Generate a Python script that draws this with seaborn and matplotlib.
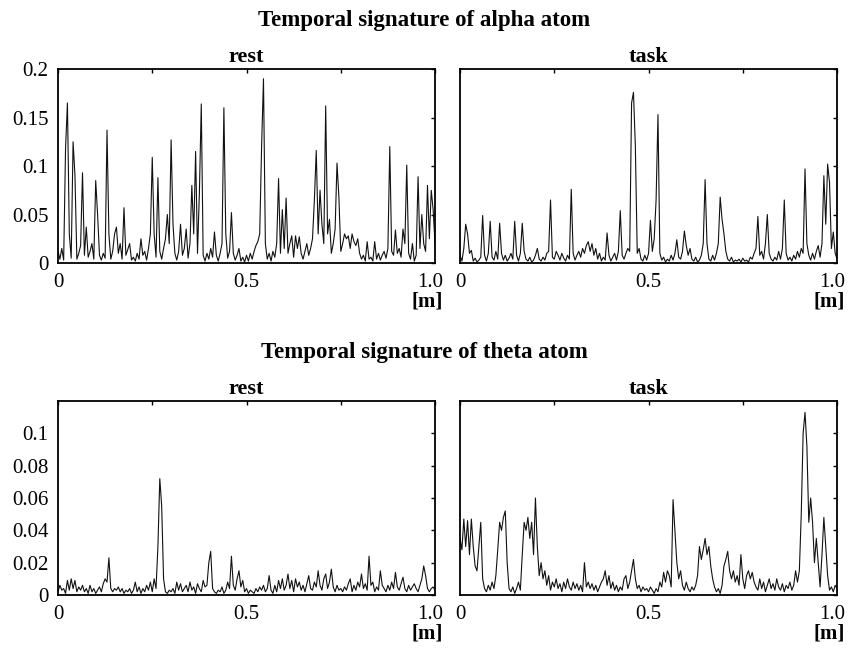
"""Temporal signatures of alpha and theta atoms (rest vs task)."""

import numpy as np
import pandas as pd
import matplotlib
matplotlib.use("Agg")
import matplotlib.pyplot as plt
import matplotlib.transforms as mtransforms
import seaborn as sns

# ---- data (201 samples over [0, 1] m) ----
ALPHA_REST = [
    0.012, 0.004, 0.015, 0.003, 0.118, 0.165, 0.030, 0.005, 0.125, 0.090, 0.004, 0.010, 0.018, 0.093, 0.008, 0.037, 0.006, 0.012, 0.020, 0.004,
    0.085, 0.050, 0.008, 0.003, 0.010, 0.005, 0.137, 0.030, 0.004, 0.012, 0.030, 0.037, 0.010, 0.020, 0.004, 0.057, 0.008, 0.014, 0.020, 0.003,
    0.006, 0.002, 0.010, 0.004, 0.025, 0.008, 0.012, 0.003, 0.015, 0.030, 0.109, 0.030, 0.006, 0.088, 0.012, 0.004, 0.015, 0.025, 0.050, 0.020,
    0.127, 0.040, 0.010, 0.003, 0.012, 0.040, 0.008, 0.015, 0.035, 0.005, 0.020, 0.080, 0.030, 0.115, 0.010, 0.072, 0.164, 0.008, 0.002, 0.010,
    0.004, 0.015, 0.006, 0.032, 0.008, 0.002, 0.010, 0.020, 0.160, 0.030, 0.005, 0.012, 0.052, 0.010, 0.003, 0.008, 0.015, 0.002, 0.006, 0.001,
    0.008, 0.002, 0.010, 0.004, 0.012, 0.018, 0.022, 0.030, 0.120, 0.190, 0.020, 0.004, 0.010, 0.002, 0.012, 0.006, 0.020, 0.087, 0.010, 0.055,
    0.015, 0.067, 0.010, 0.020, 0.028, 0.006, 0.028, 0.015, 0.027, 0.010, 0.004, 0.012, 0.020, 0.008, 0.015, 0.025, 0.065, 0.116, 0.030, 0.075,
    0.040, 0.020, 0.162, 0.030, 0.045, 0.010, 0.020, 0.035, 0.103, 0.068, 0.012, 0.020, 0.030, 0.025, 0.028, 0.015, 0.030, 0.022, 0.018, 0.025,
    0.010, 0.004, 0.008, 0.002, 0.022, 0.004, 0.006, 0.002, 0.022, 0.004, 0.010, 0.003, 0.008, 0.012, 0.005, 0.015, 0.120, 0.012, 0.008, 0.034,
    0.010, 0.015, 0.006, 0.035, 0.020, 0.101, 0.010, 0.004, 0.020, 0.002, 0.008, 0.089, 0.015, 0.050, 0.020, 0.012, 0.080, 0.025, 0.075, 0.055,
    0.020,
]

ALPHA_TASK = [
    0.008, 0.002, 0.015, 0.040, 0.030, 0.010, 0.013, 0.002, 0.005, 0.001, 0.003, 0.006, 0.049, 0.008, 0.002, 0.010, 0.043, 0.006, 0.003, 0.012,
    0.004, 0.041, 0.010, 0.003, 0.008, 0.002, 0.005, 0.010, 0.004, 0.043, 0.008, 0.002, 0.010, 0.041, 0.012, 0.004, 0.002, 0.006, 0.001, 0.003,
    0.008, 0.015, 0.004, 0.002, 0.006, 0.003, 0.010, 0.012, 0.065, 0.006, 0.004, 0.012, 0.008, 0.003, 0.010, 0.005, 0.002, 0.008, 0.004, 0.076,
    0.010, 0.003, 0.008, 0.012, 0.006, 0.015, 0.010, 0.018, 0.022, 0.012, 0.020, 0.008, 0.015, 0.004, 0.010, 0.002, 0.006, 0.003, 0.031, 0.008,
    0.002, 0.006, 0.010, 0.003, 0.012, 0.054, 0.008, 0.004, 0.010, 0.015, 0.012, 0.165, 0.176, 0.120, 0.010, 0.015, 0.004, 0.002, 0.008, 0.003,
    0.010, 0.044, 0.012, 0.025, 0.065, 0.153, 0.010, 0.003, 0.006, 0.001, 0.004, 0.002, 0.008, 0.003, 0.010, 0.024, 0.006, 0.004, 0.012, 0.033,
    0.018, 0.008, 0.015, 0.004, 0.002, 0.006, 0.001, 0.003, 0.008, 0.020, 0.086, 0.020, 0.004, 0.002, 0.008, 0.003, 0.010, 0.020, 0.068, 0.045,
    0.030, 0.012, 0.004, 0.002, 0.006, 0.001, 0.003, 0.002, 0.004, 0.001, 0.005, 0.002, 0.003, 0.001, 0.006, 0.004, 0.010, 0.015, 0.048, 0.008,
    0.012, 0.004, 0.020, 0.050, 0.010, 0.004, 0.002, 0.006, 0.003, 0.012, 0.004, 0.015, 0.065, 0.010, 0.003, 0.006, 0.002, 0.008, 0.004, 0.012,
    0.006, 0.015, 0.010, 0.097, 0.020, 0.008, 0.003, 0.010, 0.004, 0.012, 0.018, 0.006, 0.020, 0.090, 0.040, 0.102, 0.083, 0.015, 0.032, 0.010,
    0.004,
]

THETA_REST = [
    0.002, 0.006, 0.003, 0.004, 0.001, 0.009, 0.003, 0.010, 0.004, 0.009, 0.002, 0.005, 0.003, 0.006, 0.002, 0.004, 0.001, 0.006, 0.002, 0.004,
    0.001, 0.003, 0.005, 0.002, 0.007, 0.010, 0.008, 0.023, 0.004, 0.002, 0.004, 0.003, 0.005, 0.002, 0.004, 0.001, 0.003, 0.002, 0.004, 0.001,
    0.003, 0.008, 0.002, 0.005, 0.001, 0.004, 0.002, 0.006, 0.003, 0.008, 0.002, 0.010, 0.004, 0.030, 0.072, 0.055, 0.010, 0.002, 0.001, 0.003,
    0.002, 0.004, 0.001, 0.008, 0.003, 0.007, 0.002, 0.004, 0.006, 0.002, 0.008, 0.003, 0.005, 0.001, 0.007, 0.004, 0.002, 0.009, 0.005, 0.006,
    0.020, 0.027, 0.004, 0.002, 0.001, 0.003, 0.002, 0.005, 0.001, 0.003, 0.008, 0.004, 0.024, 0.006, 0.003, 0.010, 0.015, 0.005, 0.009, 0.002,
    0.004, 0.001, 0.003, 0.002, 0.001, 0.004, 0.002, 0.005, 0.003, 0.006, 0.002, 0.004, 0.012, 0.003, 0.001, 0.006, 0.002, 0.009, 0.004, 0.010,
    0.003, 0.006, 0.013, 0.004, 0.009, 0.002, 0.010, 0.005, 0.008, 0.003, 0.006, 0.002, 0.007, 0.012, 0.004, 0.003, 0.008, 0.005, 0.015, 0.006,
    0.003, 0.010, 0.013, 0.004, 0.008, 0.016, 0.005, 0.002, 0.006, 0.003, 0.004, 0.002, 0.005, 0.003, 0.007, 0.010, 0.002, 0.006, 0.003, 0.008,
    0.005, 0.013, 0.004, 0.007, 0.003, 0.024, 0.006, 0.008, 0.002, 0.005, 0.003, 0.015, 0.006, 0.004, 0.002, 0.006, 0.003, 0.008, 0.004, 0.014,
    0.005, 0.003, 0.007, 0.011, 0.004, 0.002, 0.006, 0.003, 0.005, 0.007, 0.004, 0.002, 0.006, 0.010, 0.018, 0.012, 0.004, 0.002, 0.004, 0.005,
    0.003,
]

THETA_TASK = [
    0.035, 0.028, 0.047, 0.030, 0.046, 0.025, 0.047, 0.030, 0.018, 0.015, 0.030, 0.045, 0.010, 0.004, 0.002, 0.006, 0.003, 0.008, 0.004, 0.012,
    0.028, 0.045, 0.040, 0.048, 0.052, 0.020, 0.004, 0.002, 0.005, 0.001, 0.004, 0.008, 0.003, 0.025, 0.045, 0.040, 0.048, 0.035, 0.045, 0.025,
    0.060, 0.030, 0.012, 0.020, 0.010, 0.015, 0.006, 0.012, 0.003, 0.008, 0.005, 0.010, 0.004, 0.007, 0.002, 0.008, 0.004, 0.010, 0.005, 0.003,
    0.008, 0.004, 0.007, 0.003, 0.006, 0.002, 0.020, 0.005, 0.008, 0.004, 0.007, 0.003, 0.006, 0.002, 0.005, 0.008, 0.010, 0.015, 0.006, 0.012,
    0.004, 0.008, 0.003, 0.006, 0.002, 0.005, 0.003, 0.010, 0.012, 0.004, 0.008, 0.015, 0.022, 0.010, 0.004, 0.006, 0.002, 0.005, 0.003, 0.004,
    0.002, 0.005, 0.003, 0.001, 0.004, 0.002, 0.008, 0.005, 0.014, 0.008, 0.015, 0.012, 0.005, 0.059, 0.040, 0.020, 0.010, 0.015, 0.006, 0.003,
    0.008, 0.004, 0.002, 0.005, 0.003, 0.006, 0.012, 0.030, 0.022, 0.028, 0.035, 0.025, 0.030, 0.018, 0.010, 0.005, 0.002, 0.004, 0.001, 0.006,
    0.018, 0.022, 0.027, 0.015, 0.010, 0.015, 0.008, 0.012, 0.006, 0.025, 0.010, 0.004, 0.012, 0.015, 0.010, 0.014, 0.008, 0.005, 0.003, 0.010,
    0.004, 0.008, 0.002, 0.006, 0.010, 0.004, 0.007, 0.003, 0.010, 0.005, 0.003, 0.007, 0.002, 0.006, 0.004, 0.008, 0.003, 0.006, 0.015, 0.008,
    0.015, 0.050, 0.100, 0.113, 0.092, 0.045, 0.060, 0.045, 0.020, 0.035, 0.020, 0.005, 0.025, 0.048, 0.030, 0.012, 0.003, 0.005, 0.002, 0.006,
    0.004,
]

X_TICKS = [0, 0.25, 0.5, 0.75, 1.0]
X_LABELS = ["0", "", "0.5", "", "1.0"]
ALPHA_YTICKS = [0, 0.05, 0.1, 0.15, 0.2]
ALPHA_YLABELS = ["0", "0.05", "0.1", "0.15", "0.2"]
THETA_YTICKS = [0, 0.02, 0.04, 0.06, 0.08, 0.1]
THETA_YLABELS = ["0", "0.02", "0.04", "0.06", "0.08", "0.1"]


def style_axis(fig, ax, yticks, ylabels, ymax, show_y):
    ax.set_xlim(0, 1.0)
    ax.set_ylim(0, ymax)
    ax.set_xticks(X_TICKS)
    ax.set_xticklabels(X_LABELS)
    ax.set_yticks(yticks)
    ax.set_yticklabels(ylabels if show_y else [])
    ax.tick_params(direction="in", top=True, right=True, length=3,
                   width=1.0, labelsize=15, pad=7, colors="black")
    ax.set_xlabel("")
    ax.set_ylabel("")
    for sp in ax.spines.values():
        sp.set_visible(True)
        sp.set_linewidth(1.3)
        sp.set_color("black")

    # "1.0" sits just left of the right edge, as in the reference
    last = ax.get_xticklabels()[-1]
    last.set_horizontalalignment("right")
    last.set_transform(last.get_transform() +
                       mtransforms.ScaledTranslation(8 / 100, 0, fig.dpi_scale_trans))

    ax.text(1.02, -0.2, "[m]", transform=ax.transAxes, ha="right",
            va="center", fontsize=15, fontweight="bold", color="black")


def main():
    sns.set_theme(style="white")
    plt.rcParams["font.family"] = ["Liberation Serif", "DejaVu Serif"]
    plt.rcParams["text.color"] = "black"

    x = np.linspace(0, 1, len(ALPHA_REST))
    fig = plt.figure(figsize=(8.48, 6.52), dpi=100)

    W, H = 0.4446, 0.2975
    panels = [
        ([0.0684, 0.5966, W, H], ALPHA_REST, "rest", ALPHA_YTICKS, ALPHA_YLABELS, 0.2, True),
        ([0.5425, 0.5966, W, H], ALPHA_TASK, "task", ALPHA_YTICKS, ALPHA_YLABELS, 0.2, False),
        ([0.0684, 0.0874, W, H], THETA_REST, "rest", THETA_YTICKS, THETA_YLABELS, 0.12, True),
        ([0.5425, 0.0874, W, H], THETA_TASK, "task", THETA_YTICKS, THETA_YLABELS, 0.12, False),
    ]
    for rect, vals, title, yt, yl, ymax, show_y in panels:
        ax = fig.add_axes(rect)
        df = pd.DataFrame({"pos": x, "val": vals})
        sns.lineplot(data=df, x="pos", y="val", ax=ax, color="#111111",
                     linewidth=0.8)
        ax.set_title(title, fontsize=16, fontweight="bold", pad=5,
                     color="black")
        style_axis(fig, ax, yt, yl, ymax, show_y)

    fig.text(0.5, 0.969, "Temporal signature of alpha atom", ha="center",
             va="center", fontsize=16.5, fontweight="bold", color="black")
    fig.text(0.5, 0.460, "Temporal signature of theta atom", ha="center",
             va="center", fontsize=16.5, fontweight="bold", color="black")

    fig.savefig("out.png", dpi=100, facecolor="white")
    plt.close(fig)


if __name__ == "__main__":
    main()
